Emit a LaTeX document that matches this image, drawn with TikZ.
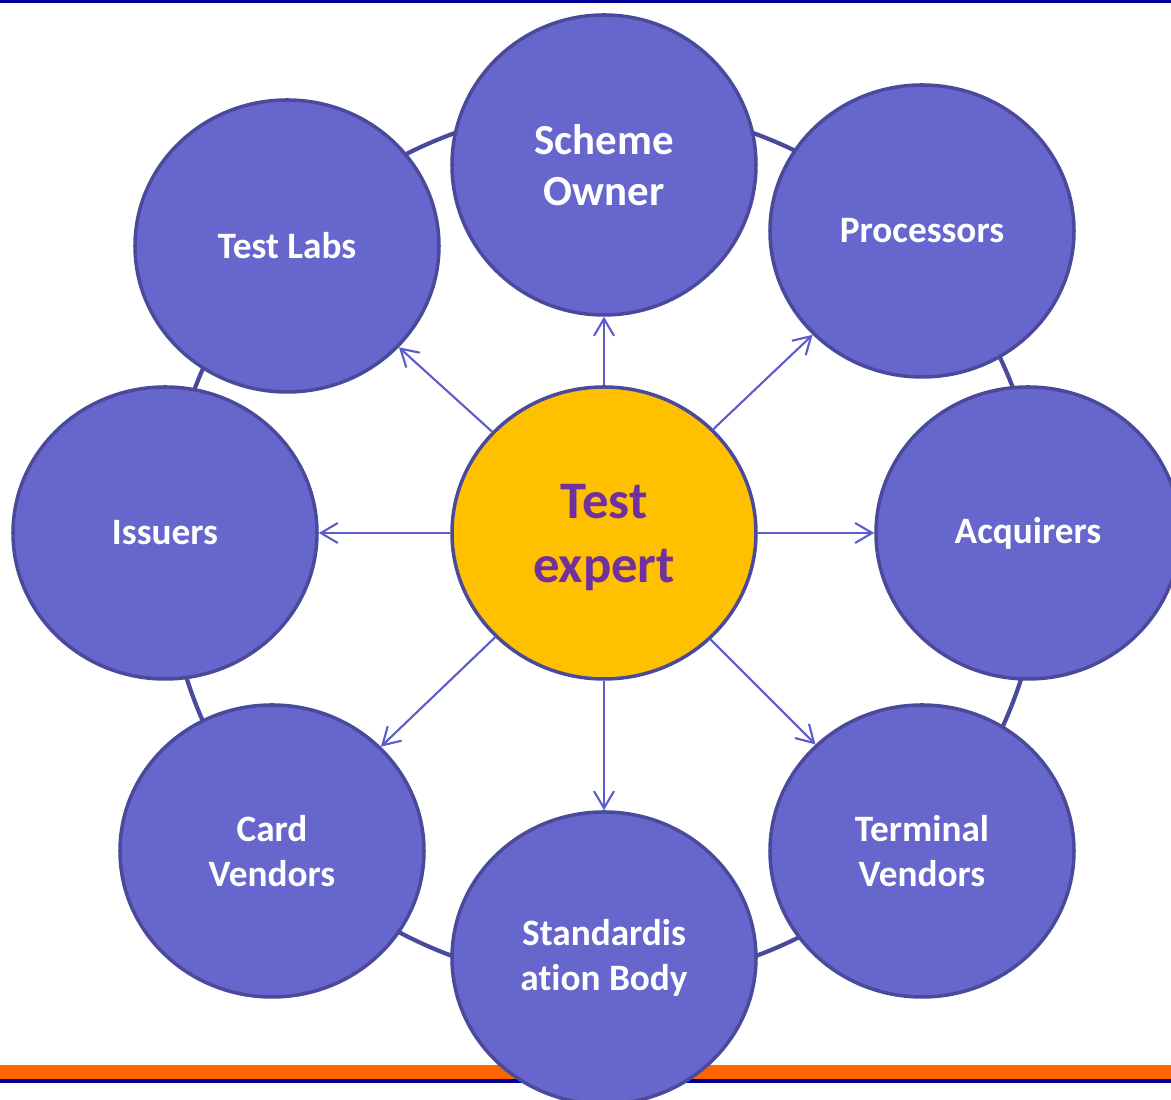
\documentclass[tikz,border=0pt]{standalone}
\usepackage{fontspec}
\setmainfont{Carlito}[Ligatures={NoCommon}]
\usepackage{xcolor}
\usetikzlibrary{shapes, arrows.meta, positioning}

\definecolor{bandblue}{HTML}{000099}
\definecolor{bandorange}{HTML}{FF6600}
\definecolor{rimblue}{HTML}{4A4A9C}
\definecolor{bubblefill}{HTML}{6666CC}
\definecolor{arrowblue}{HTML}{5C5CCC}
\definecolor{expertfill}{HTML}{FFC000}
\definecolor{expertink}{HTML}{7030A0}

\begin{document}
\begin{tikzpicture}[
  bubble/.style={ellipse, draw=rimblue, line width=1pt, fill=bubblefill,
    minimum width=3.04cm, minimum height=2.92cm, inner sep=0pt,
    align=center, text=white, font=\bfseries\fontsize{10.6pt}{12.8pt}\selectfont},
  spoke/.style={draw=arrowblue, line width=0.6pt,
    -{Straight Barb[length=1.7mm,width=2mm]}}
]
  \useasboundingbox (0,0) rectangle (11.71,11);

  % Garis atas dan bawah
  \fill[bandblue] (0,10.97) rectangle (11.71,11);
  \fill[bandorange] (0,0.21) rectangle (11.71,0.35);
  \fill[bandblue] (0,0.17) rectangle (11.71,0.21);

  % Lingkaran belakang
  \draw[rimblue, line width=1.2pt] (6.04,5.55) circle (4.38);

  % Pusat
  \node[bubble, fill=expertfill, text=expertink, text depth=0pt,
    font=\bfseries\fontsize{15pt}{18.2pt}\selectfont] (expert) at (6.04,5.67) {Test\\expert};

  % Lingkaran luar
  \node[bubble, minimum height=3cm,
    font=\bfseries\fontsize{12.2pt}{14.6pt}\selectfont] (owner) at (6.04,9.35) {Scheme\\Owner};
  \node[bubble] (processors) at (9.22,8.69) {Processors};
  \node[bubble] (acquirers) at (10.28,5.67) {Acquirers};
  \node[bubble] (terminal) at (9.22,2.49) {Terminal\\Vendors};
  \node[bubble] (standard) at (6.04,1.42) {Standardis\\ation Body};
  \node[bubble] (card) at (2.72,2.49) {Card\\Vendors};
  \node[bubble] (issuers) at (1.65,5.67) {Issuers};
  \node[bubble] (labs) at (2.87,8.54) {Test Labs};

  % Panah
  \draw[spoke] (expert) -- (owner);
  \draw[spoke] (expert) -- (processors);
  \draw[spoke] (expert) -- (acquirers);
  \draw[spoke] (expert) -- (terminal);
  \draw[spoke] (expert) -- (standard);
  \draw[spoke] (expert) -- (card);
  \draw[spoke] (expert) -- (issuers);
  \draw[spoke] (expert) -- (labs);
\end{tikzpicture}
\end{document}
